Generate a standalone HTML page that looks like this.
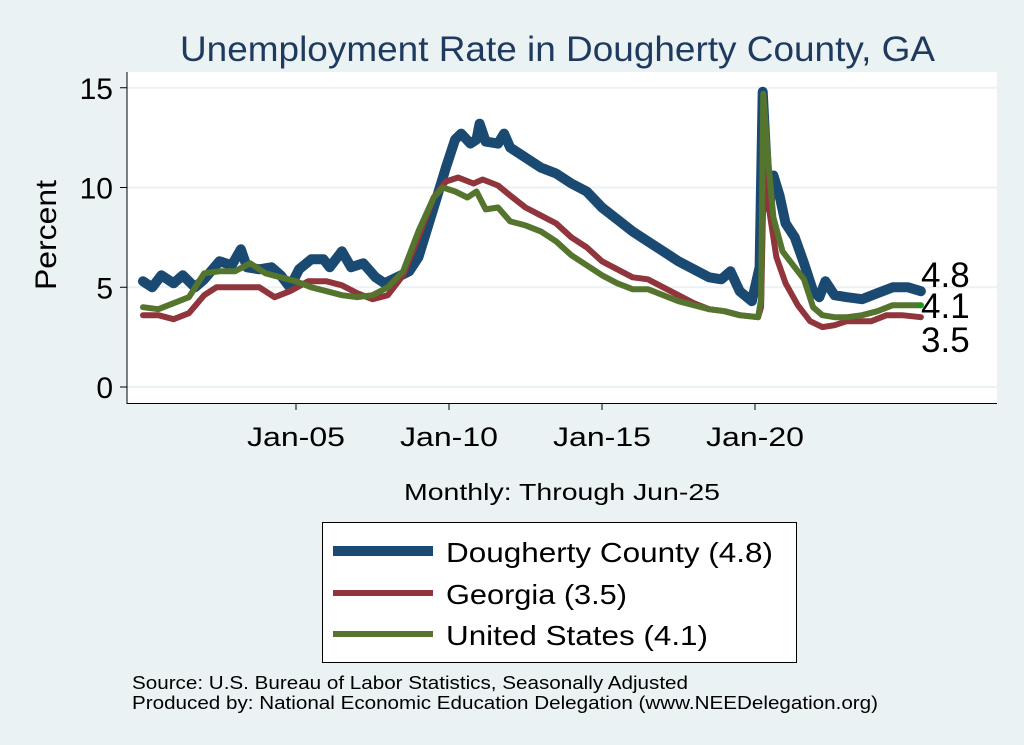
<!DOCTYPE html>
<html><head><meta charset="utf-8"><style>
body{margin:0;background:#eaf2f3;font-family:"Liberation Sans",sans-serif}
svg{display:block}
</style></head><body>
<svg width="1024" height="745">
<rect x="0" y="0" width="1024" height="745" fill="#eaf2f3"/>
<text x="180" y="61" font-size="35" textLength="755" lengthAdjust="spacingAndGlyphs" fill="#1e3a5f">Unemployment Rate in Dougherty  County, GA</text>
<rect x="127" y="72" width="870" height="331" fill="#fff"/>
<g id="grid"></g>
<line x1="127" y1="72" x2="127" y2="404" stroke="#000" stroke-width="1"/>
<line x1="127" y1="403.5" x2="997" y2="403.5" stroke="#000" stroke-width="1"/>
<g id="yticks"></g><g id="xticks"></g>
<text x="56" y="290" font-size="30" textLength="110" lengthAdjust="spacingAndGlyphs" transform="rotate(-90 56 290)">Percent</text>
<text x="404" y="500" font-size="23" textLength="316" lengthAdjust="spacingAndGlyphs">Monthly: Through Jun-25</text>
<g id="series"></g>
<g id="endlabels"></g>
<g>
<rect x="322.5" y="522.5" width="474" height="140" fill="#fff" stroke="#000"/>
<line x1="333" y1="551" x2="433" y2="551" stroke="#1a4a72" stroke-width="10"/>
<text x="446" y="562" font-size="28" textLength="327" lengthAdjust="spacingAndGlyphs">Dougherty  County (4.8)</text>
<line x1="333" y1="593" x2="433" y2="593" stroke="#90353b" stroke-width="6"/>
<text x="446" y="604" font-size="28" textLength="181" lengthAdjust="spacingAndGlyphs">Georgia (3.5)</text>
<line x1="333" y1="634" x2="433" y2="634" stroke="#55752f" stroke-width="6"/>
<text x="446" y="645" font-size="28" textLength="262" lengthAdjust="spacingAndGlyphs">United States (4.1)</text>
</g>
<text x="132" y="689" font-size="18" textLength="556" lengthAdjust="spacingAndGlyphs">Source: U.S. Bureau of Labor Statistics, Seasonally Adjusted</text>
<text x="132" y="709" font-size="18" textLength="746" lengthAdjust="spacingAndGlyphs">Produced by: National Economic Education Delegation (www.NEEDelegation.org)</text>
</svg>
<script>
const yTicks=[0,5,10,15];
const xTickYears=[2005,2010,2015,2020];
const xTickLabels=["Jan-05","Jan-10","Jan-15","Jan-20"];
const countyT=[2000.0,2000.3,2000.6,2001.0,2001.3,2001.7,2002.0,2002.5,2002.9,2003.2,2003.4,2003.8,2004.2,2004.5,2004.8,2005.1,2005.5,2005.9,2006.1,2006.5,2006.8,2007.2,2007.6,2007.9,2008.3,2008.7,2009.0,2009.3,2009.6,2009.9,2010.2,2010.4,2010.7,2010.9,2011.0,2011.2,2011.6,2011.8,2012.0,2012.5,2013.0,2013.5,2014.0,2014.5,2015.0,2015.5,2016.0,2016.5,2017.0,2017.5,2018.0,2018.5,2018.9,2019.2,2019.5,2019.9,2020.0,2020.15,2020.25,2020.45,2020.6,2020.8,2021.0,2021.3,2021.6,2021.9,2022.1,2022.3,2022.6,2023.0,2023.5,2024.0,2024.5,2025.0,2025.42];
const countyV=[5.3,5.0,5.6,5.2,5.6,5.0,5.4,6.3,6.1,6.9,6.0,5.9,6.0,5.6,5.0,5.9,6.4,6.4,6.0,6.8,6.0,6.2,5.5,5.2,5.5,5.8,6.5,8.0,9.5,11.0,12.4,12.7,12.2,12.4,13.2,12.3,12.2,12.7,12.0,11.5,11.0,10.7,10.2,9.8,9.0,8.4,7.8,7.3,6.8,6.3,5.9,5.5,5.4,5.8,4.8,4.3,5.0,6.0,14.8,9.0,10.6,9.6,8.2,7.5,6.2,4.8,4.5,5.3,4.6,4.5,4.4,4.7,5.0,5.0,4.8];
const georgiaT=[2000.0,2000.5,2001.0,2001.5,2002.0,2002.4,2003.0,2003.8,2004.3,2004.8,2005.4,2006.0,2006.5,2007.0,2007.5,2008.0,2008.5,2009.0,2009.5,2009.9,2010.3,2010.8,2011.1,2011.6,2012.0,2012.5,2013.0,2013.5,2014.0,2014.5,2015.0,2015.5,2016.0,2016.5,2017.0,2017.5,2018.0,2018.5,2019.0,2019.5,2020.1,2020.2,2020.3,2020.45,2020.7,2021.0,2021.4,2021.8,2022.2,2022.6,2023.0,2023.8,2024.3,2024.8,2025.42];
const georgiaV=[3.6,3.6,3.4,3.7,4.6,5.0,5.0,5.0,4.5,4.8,5.3,5.3,5.1,4.7,4.4,4.6,5.6,7.5,9.5,10.3,10.5,10.2,10.4,10.1,9.6,9.0,8.6,8.2,7.5,7.0,6.3,5.9,5.5,5.4,5.0,4.6,4.2,3.9,3.8,3.6,3.5,4.0,12.0,9.0,6.5,5.2,4.1,3.3,3.0,3.1,3.3,3.3,3.6,3.6,3.5];
const usT=[2000.0,2000.5,2001.0,2001.5,2002.0,2002.5,2003.0,2003.5,2004.0,2004.5,2005.0,2005.5,2006.0,2006.5,2007.0,2007.5,2008.0,2008.5,2009.0,2009.5,2009.8,2010.2,2010.6,2010.9,2011.2,2011.6,2012.0,2012.5,2013.0,2013.5,2014.0,2014.5,2015.0,2015.5,2016.0,2016.5,2017.0,2017.5,2018.0,2018.5,2019.0,2019.5,2020.1,2020.2,2020.27,2020.45,2020.6,2020.9,2021.2,2021.6,2021.9,2022.2,2022.6,2023.0,2023.5,2024.0,2024.5,2025.0,2025.42];
const usV=[4.0,3.9,4.2,4.5,5.7,5.8,5.8,6.2,5.7,5.5,5.3,5.0,4.8,4.6,4.5,4.6,5.0,5.8,7.8,9.5,10.0,9.8,9.5,9.8,8.9,9.0,8.3,8.1,7.8,7.3,6.6,6.1,5.6,5.2,4.9,4.9,4.6,4.3,4.1,3.9,3.8,3.6,3.5,4.4,14.7,11.0,8.5,6.8,6.2,5.4,4.0,3.6,3.5,3.5,3.6,3.8,4.1,4.1,4.1];
const endLabels=["4.8","4.1","3.5"];
const NS="http://www.w3.org/2000/svg";
function X(t){return 296+(t-2005)*30.6;}
function Y(v){return 387-v*19.95;}
function mk(tag,attrs,parent){const e=document.createElementNS(NS,tag);for(const k in attrs)e.setAttribute(k,attrs[k]);parent.appendChild(e);return e;}
const grid=document.getElementById('grid'),yt=document.getElementById('yticks'),xt=document.getElementById('xticks');
yTicks.forEach(v=>{
 const g=mk('line',{x1:127,x2:997,y1:Y(v),y2:Y(v),stroke:'#eaf2f3','stroke-width':2},grid);
 
 
 const t=mk('line',{x1:120,x2:127,y1:Y(v),y2:Y(v),stroke:'#000'},yt);
 
 
 const l=mk('text',{x:113,y:Y(v)+11,'text-anchor':'end','font-size':30},yt);l.textContent=v;
 
 
});
xTickYears.forEach((yr,i)=>{
 const t=mk('line',{x1:X(yr),x2:X(yr),y1:403,y2:410,stroke:'#000'},xt);
 
 
 const l=mk('text',{x:X(yr)-49,y:446,'font-size':27,textLength:98,lengthAdjust:'spacingAndGlyphs'},xt);l.textContent=xTickLabels[i];
 
 
});
const ser=document.getElementById('series');
function line(T,V,color,w,name){
 const d=T.map((t,i)=>(i?'L':'M')+X(t).toFixed(1)+','+Y(V[i]).toFixed(1)).join('');
 const p=mk('path',{d:d,fill:'none',stroke:color,'stroke-width':w,'stroke-linejoin':'round','stroke-linecap':'round'},ser);
 
 
}
line(countyT,countyV,'#1a4a72',10,'county-line');
line(georgiaT,georgiaV,'#90353b',6,'georgia-line');
line(usT,usV,'#55752f',6,'us-line');
const dot=mk('circle',{cx:X(usT[usT.length-1]),cy:Y(usV[usV.length-1]),r:3,fill:'#1a9a1a'},ser);


const el=document.getElementById('endlabels');
[[endLabels[0],287],[endLabels[1],318],[endLabels[2],352]].forEach(([s,y])=>{
 const t=mk('text',{x:921,y:y,'font-size':35},el);t.textContent=s;
 
 
});
</script>
</body></html>
